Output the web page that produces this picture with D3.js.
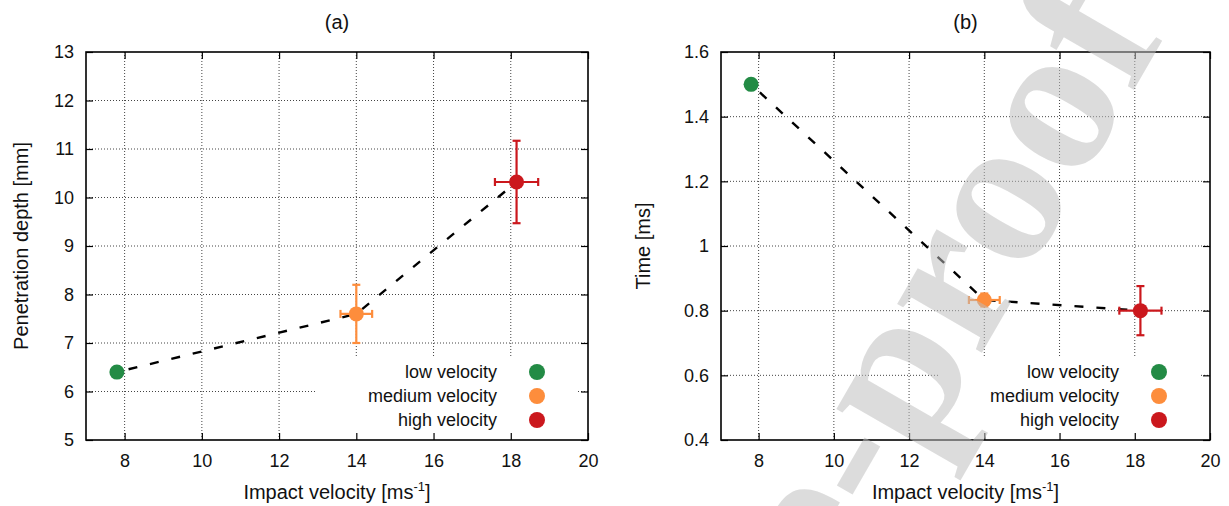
<!DOCTYPE html>
<html>
<head>
<meta charset="utf-8">
<script src="https://cdn.jsdelivr.net/npm/d3@7"></script>
<style>
  body { margin: 0; background: #fff; }
  svg { display: block; font-family: "Liberation Sans", Arial, sans-serif; }
</style>
</head>
<body>
<svg id="chart"></svg>
<script>
const width = 1229, height = 506;

// measurements (low, medium, high impact velocity)
const classes = ["low velocity", "medium velocity", "high velocity"];
const colors = ["#238b45", "#fd8d3c", "#cb181d"];
const velocity = [7.8, 14.0, 18.15];
const velocityErr = [0, 0.41, 0.56];
const depth = [6.4, 7.6, 10.32];
const depthErr = [0, 0.6, 0.85];
const time = [1.5, 0.833, 0.8];
const timeErr = [0, 0.02, 0.076];

const xTicks = [8, 10, 12, 14, 16, 18, 20];
const depthTicks = [5, 6, 7, 8, 9, 10, 11, 12, 13];
const timeTicks = [0.4, 0.6, 0.8, 1, 1.2, 1.4, 1.6];

const svg = d3.select('#chart')
    .attr('width', width)
    .attr('height', height);

function panel(opts) {
    const {left, right, top, bottom} = opts;
    const g = svg.append('g');

    const x = d3.scaleLinear().domain([7, 20]).range([left, right]);
    const y = d3.scaleLinear().domain(opts.yDomain).range([bottom, top]);

    // grid
    const grid = g.append('g')
        .attr('stroke', '#444')
        .attr('stroke-width', 1)
        .attr('stroke-dasharray', '1,2');
    grid.selectAll('.gx')
        .data(xTicks.filter(t => t > 7 && t < 20))
        .enter().append('line')
        .attr('x1', d => x(d)).attr('x2', d => x(d))
        .attr('y1', bottom).attr('y2', top);
    grid.selectAll('.gy')
        .data(opts.yTicks.slice(1, -1))
        .enter().append('line')
        .attr('x1', left).attr('x2', right)
        .attr('y1', d => y(d)).attr('y2', d => y(d));

    // opaque key box
    g.append('rect')
        .attr('x', right - 271).attr('y', 358)
        .attr('width', 261).attr('height', bottom - 358)
        .attr('fill', '#fff');

    // axes (ticks inward, mirrored)
    const tk = 7;
    g.append('g')
        .attr('transform', `translate(0,${bottom})`)
        .call(d3.axisBottom(x).tickValues(xTicks).tickSize(-tk).tickPadding(14))
        .call(a => a.select('.domain').remove());
    g.append('g')
        .attr('transform', `translate(0,${top})`)
        .call(d3.axisTop(x).tickValues(xTicks).tickSize(-tk).tickFormat(''))
        .call(a => a.select('.domain').remove());
    g.append('g')
        .attr('transform', `translate(${left},0)`)
        .call(d3.axisLeft(y).tickValues(opts.yTicks).tickSize(-tk).tickPadding(12).tickFormat(d3.format('')))
        .call(a => a.select('.domain').remove());
    g.append('g')
        .attr('transform', `translate(${right},0)`)
        .call(d3.axisRight(y).tickValues(opts.yTicks).tickSize(-tk).tickFormat(''))
        .call(a => a.select('.domain').remove());
    g.selectAll('.tick line').attr('stroke', '#000').attr('stroke-width', 1.2);
    g.selectAll('.tick text')
        .attr('font-size', 18)
        .attr('font-family', '"Liberation Sans", Arial, sans-serif')
        .attr('fill', '#111');

    g.append('rect')
        .attr('x', left).attr('y', top)
        .attr('width', right - left).attr('height', bottom - top)
        .attr('fill', 'none')
        .attr('stroke', '#000')
        .attr('stroke-width', 1.6);

    // dashed connecting line
    const pts = velocity.map((v, i) => [v, opts.values[i]]);
    g.append('path')
        .attr('d', d3.line().x(d => x(d[0])).y(d => y(d[1]))(pts))
        .attr('fill', 'none')
        .attr('stroke', '#000')
        .attr('stroke-width', 2.4)
        .attr('stroke-dasharray', '9,13')
        .attr('stroke-dashoffset', -12);

    // error bars
    const cap = 4;
    velocity.forEach((v, i) => {
        const c = colors[i], val = opts.values[i], ex = velocityErr[i], ey = opts.errors[i];
        if (!ex && !ey) return;
        const eb = g.append('g').attr('stroke', c).attr('stroke-width', 2.2);
        eb.append('line')
            .attr('x1', x(v - ex)).attr('x2', x(v + ex))
            .attr('y1', y(val)).attr('y2', y(val));
        eb.append('line')
            .attr('x1', x(v)).attr('x2', x(v))
            .attr('y1', y(val - ey)).attr('y2', y(val + ey));
        [v - ex, v + ex].forEach(e => eb.append('line')
            .attr('x1', x(e)).attr('x2', x(e))
            .attr('y1', y(val) - cap).attr('y2', y(val) + cap));
        [val - ey, val + ey].forEach(e => eb.append('line')
            .attr('x1', x(v) - cap).attr('x2', x(v) + cap)
            .attr('y1', y(e)).attr('y2', y(e)));
    });

    g.selectAll('.pt')
        .data(pts)
        .enter().append('circle')
        .attr('cx', d => x(d[0]))
        .attr('cy', d => y(d[1]))
        .attr('r', 7.5)
        .attr('fill', (d, i) => colors[i]);

    // key
    classes.forEach((name, i) => {
        const ky = 372 + i * 24;
        g.append('text')
            .attr('x', right - 91).attr('y', ky)
            .attr('dy', '0.35em')
            .attr('text-anchor', 'end')
            .attr('font-size', 18)
            .attr('fill', '#111')
            .text(name);
        g.append('circle')
            .attr('cx', right - 51).attr('cy', ky)
            .attr('r', 8)
            .attr('fill', colors[i]);
    });

    // titles
    const cx = (left + right) / 2;
    g.append('text')
        .attr('x', cx).attr('y', 22).attr('dy', '0.35em')
        .attr('text-anchor', 'middle')
        .attr('font-size', 20)
        .attr('fill', '#111')
        .text(opts.title);
    const xl = g.append('text')
        .attr('x', cx).attr('y', 492).attr('dy', '0.35em')
        .attr('text-anchor', 'middle')
        .attr('font-size', 20)
        .attr('fill', '#111');
    xl.append('tspan').text('Impact velocity [ms');
    xl.append('tspan').attr('font-size', 13).attr('dy', -8).text('-1');
    xl.append('tspan').attr('dy', 8).text(']');
    g.append('text')
        .attr('transform', `translate(${opts.yLabelX},${(top + bottom) / 2}) rotate(-90)`)
        .attr('dy', '0.35em')
        .attr('text-anchor', 'middle')
        .attr('font-size', 20)
        .attr('fill', '#111')
        .text(opts.yLabel);
}

panel({
    left: 86, right: 588, top: 52, bottom: 440,
    yDomain: [5, 13], yTicks: depthTicks,
    values: depth, errors: depthErr,
    title: '(a)', yLabel: 'Penetration depth [mm]', yLabelX: 21
});

panel({
    left: 721, right: 1210, top: 52, bottom: 440,
    yDomain: [0.4, 1.6], yTicks: timeTicks,
    values: time, errors: timeErr,
    title: '(b)', yLabel: 'Time [ms]', yLabelX: 643
});

// journal watermark over the right panel
svg.append('text')
    .attr('transform', 'translate(345,1456) rotate(-60)')
    .attr('font-family', '"Liberation Serif", "Times New Roman", serif')
    .attr('font-weight', 'bold')
    .attr('font-size', 213)
    .attr('fill', 'rgb(189,189,189)')
    .attr('fill-opacity', 0.53)
    .text('Journal Pre-proof');
</script>
</body>
</html>
